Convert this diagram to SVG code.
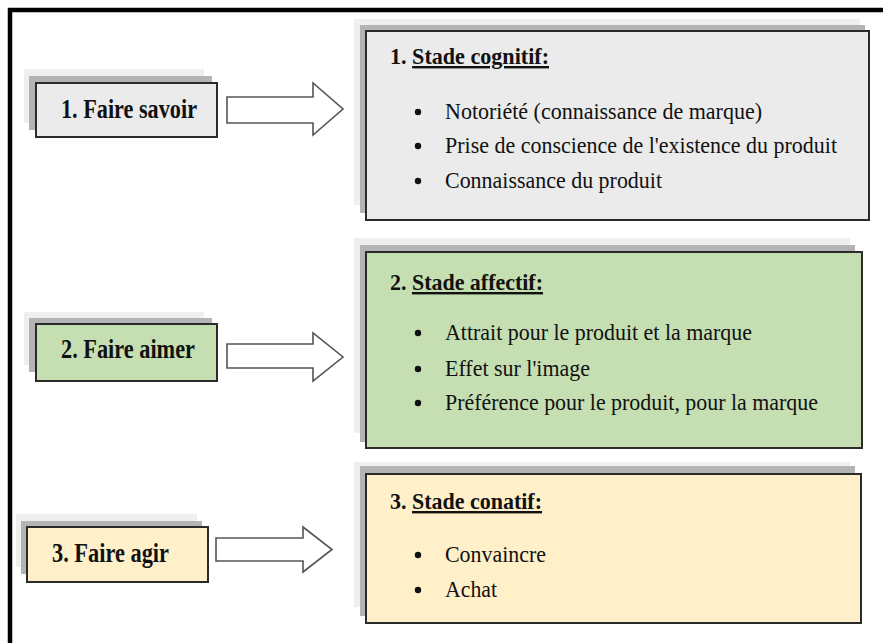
<svg xmlns="http://www.w3.org/2000/svg" width="883" height="643" viewBox="0 0 883 643">
  <style>
    .haze { fill: #efefef; }
    .shadow { fill: #b4b4b4; }
    .box { stroke: #2b2b2b; stroke-width: 2; }
    .gray { fill: #ebebeb; }
    .green { fill: #c5dfb3; }
    .cream { fill: #fff0c9; }
    .label { font-family: "Liberation Serif", "Times New Roman", serif; font-weight: bold; font-size: 27px; fill: #111; }
    .title { font-family: "Liberation Serif", "Times New Roman", serif; font-weight: bold; font-size: 24px; fill: #111; }
    .item { font-family: "Liberation Serif", "Times New Roman", serif; font-size: 24px; fill: #111; }
    .u { text-decoration: underline; }
    .dot { fill: #111; }
    .arrow { fill: #ffffff; stroke: #555555; stroke-width: 1.6; }
  </style>
  <rect width="883" height="643" fill="#ffffff"/>
  <!-- outer frame (top and left edges) -->
  <path d="M10,643 V10 H883" fill="none" stroke="#000" stroke-width="4.5"/>

  <!-- left stage labels -->
  <g id="faire-savoir">
    <rect class="haze" x="24" y="69" width="180" height="54"/>
    <rect class="shadow" x="29" y="76" width="183" height="54"/>
    <rect class="box gray" x="36" y="83" width="181" height="54"/>
    <text class="label" x="61" y="118" textLength="136" lengthAdjust="spacingAndGlyphs">1. Faire savoir</text>
  </g>
  <g id="faire-aimer">
    <rect class="haze" x="24" y="312" width="180" height="53"/>
    <rect class="shadow" x="29" y="318" width="183" height="54"/>
    <rect class="box green" x="36" y="324" width="181" height="57"/>
    <text class="label" x="61" y="358" textLength="134" lengthAdjust="spacingAndGlyphs">2. Faire aimer</text>
  </g>
  <g id="faire-agir">
    <rect class="haze" x="16" y="514" width="181" height="53"/>
    <rect class="shadow" x="21" y="521" width="181" height="53"/>
    <rect class="box cream" x="27" y="527" width="181" height="55"/>
    <text class="label" x="52" y="562" textLength="117" lengthAdjust="spacingAndGlyphs">3. Faire agir</text>
  </g>

  <!-- right stage descriptions -->
  <g id="stade-cognitif">
    <rect class="haze" x="354" y="19" width="506" height="186"/>
    <rect class="shadow" x="360" y="25" width="505" height="188"/>
    <rect class="box gray" x="366" y="31" width="503" height="189"/>
    <text class="title" x="390" y="64" textLength="159" lengthAdjust="spacingAndGlyphs">1. <tspan class="u">Stade cognitif:</tspan></text>
    <circle class="dot" cx="418" cy="112" r="3.2"/>
    <text class="item" x="445" y="119" textLength="317" lengthAdjust="spacingAndGlyphs">Notoriété (connaissance de marque)</text>
    <circle class="dot" cx="418" cy="146" r="3.2"/>
    <text class="item" x="445" y="153" textLength="392" lengthAdjust="spacingAndGlyphs">Prise de conscience de l'existence du produit</text>
    <circle class="dot" cx="418" cy="181" r="3.2"/>
    <text class="item" x="445" y="188" textLength="217" lengthAdjust="spacingAndGlyphs">Connaissance du produit</text>
  </g>
  <g id="stade-affectif">
    <rect class="haze" x="354" y="238" width="496" height="195"/>
    <rect class="shadow" x="360" y="245" width="495" height="197"/>
    <rect class="box green" x="366" y="252" width="496" height="196"/>
    <text class="title" x="390" y="290" textLength="153" lengthAdjust="spacingAndGlyphs">2. <tspan class="u">Stade affectif:</tspan></text>
    <circle class="dot" cx="418" cy="333" r="3.2"/>
    <text class="item" x="445" y="340" textLength="307" lengthAdjust="spacingAndGlyphs">Attrait pour le produit et la marque</text>
    <circle class="dot" cx="418" cy="369" r="3.2"/>
    <text class="item" x="445" y="376" textLength="145" lengthAdjust="spacingAndGlyphs">Effet sur l'image</text>
    <circle class="dot" cx="418" cy="403" r="3.2"/>
    <text class="item" x="445" y="410" textLength="373" lengthAdjust="spacingAndGlyphs">Préférence pour le produit, pour la marque</text>
  </g>
  <g id="stade-conatif">
    <rect class="haze" x="354" y="462" width="496" height="145"/>
    <rect class="shadow" x="360" y="466" width="495" height="150"/>
    <rect class="box cream" x="366" y="474" width="495" height="149"/>
    <text class="title" x="390" y="509" textLength="152" lengthAdjust="spacingAndGlyphs">3. <tspan class="u">Stade conatif:</tspan></text>
    <circle class="dot" cx="418" cy="555" r="3.2"/>
    <text class="item" x="445" y="562" textLength="101" lengthAdjust="spacingAndGlyphs">Convaincre</text>
    <circle class="dot" cx="418" cy="590" r="3.2"/>
    <text class="item" x="445" y="597" textLength="52" lengthAdjust="spacingAndGlyphs">Achat</text>
  </g>

  <!-- block arrows linking each label to its stage -->
  <g id="connectors">
    <path class="arrow" d="M227,97 H313 V83 L343,109 L313,135 V123 H227 Z"/>
    <path class="arrow" d="M227,344 H313 V333 L343,357 L313,381 V368 H227 Z"/>
    <path class="arrow" d="M216,538 H303 V527 L332,549.5 L303,572 V561 H216 Z"/>
  </g>
</svg>
